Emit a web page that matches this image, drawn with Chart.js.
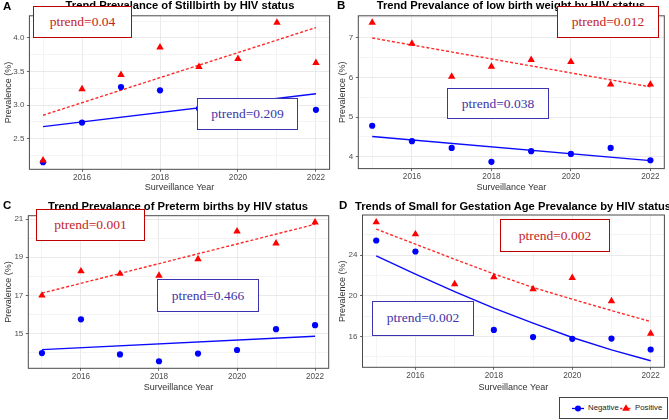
<!DOCTYPE html>
<html>
<head>
<meta charset="utf-8">
<script src="https://cdn.jsdelivr.net/npm/chart.js@4.4.1/dist/chart.umd.min.js"></script>
<style>
  body { margin: 0; background: #fff; }
  #page { position: relative; width: 669px; height: 420px; overflow: hidden; font-family: Arial, "Liberation Sans", sans-serif; }
  canvas { position: absolute; }
  .ttl { position: absolute; font-weight: bold; font-size: 11.2px; line-height: 11px; white-space: nowrap; transform: translateX(-50%); color: #000; }
  .tag { position: absolute; font-weight: bold; font-size: 11.5px; line-height: 11px; color: #000; }
  .pbox { position: absolute; box-sizing: border-box; background: #fff; border: 1.6px solid; display: flex; align-items: center; justify-content: center;
          font-family: "Liberation Serif", "Times New Roman", serif; font-size: 13.5px; }
  .red { border-color: #c00000; color: #c42424; }
  .blue { border-color: #3c33b0; color: #3d35a8; }
  #legend { position: absolute; left: 559px; top: 397px; width: 109px; height: 22px; box-sizing: border-box; border: 1px solid #444; background: #fff; }
  #legend span { position: absolute; top: 5px; font-size: 7.8px; line-height: 10px; color: #222; }
</style>
</head>
<body>
<div id="page">
  <canvas id="pA" width="334" height="197" style="left:0px;top:0px;width:334px;height:197px"></canvas>
  <canvas id="pB" width="335" height="197" style="left:334px;top:0px;width:335px;height:197px"></canvas>
  <canvas id="pC" width="334" height="200" style="left:0px;top:197px;width:334px;height:200px"></canvas>
  <canvas id="pD" width="335" height="200" style="left:334px;top:197px;width:335px;height:200px"></canvas>

  <div class="tag" style="left:3px;top:1px">A</div>
  <div class="tag" style="left:337px;top:0px">B</div>
  <div class="tag" style="left:3px;top:200px">C</div>
  <div class="tag" style="left:339px;top:200px">D</div>

  <div class="ttl" style="left:180px;top:0px">Trend Prevalance of Stillbirth by HIV status</div>
  <div class="ttl" style="left:511px;top:0px">Trend Prevalance of low birth weight by HIV status</div>
  <div class="ttl" style="left:178px;top:200.5px">Trend Prevalance of Preterm births by HIV status</div>
  <div class="ttl" style="left:513px;top:200.5px">Trends of Small for Gestation Age Prevalance by HIV status</div>

  <div class="pbox red"  style="left:33px;top:6px;width:99px;height:32px">ptrend=0.04</div>
  <div class="pbox blue" style="left:197px;top:98px;width:101px;height:32px">ptrend=0.209</div>
  <div class="pbox red"  style="left:557px;top:6px;width:102px;height:32px">ptrend=0.012</div>
  <div class="pbox blue" style="left:447px;top:88px;width:102px;height:31px">ptrend=0.038</div>
  <div class="pbox red"  style="left:36px;top:209px;width:109px;height:32px">ptrend=0.001</div>
  <div class="pbox blue" style="left:157px;top:279px;width:102px;height:33px">ptrend=0.466</div>
  <div class="pbox red"  style="left:500px;top:219px;width:110px;height:33px">ptrend=0.002</div>
  <div class="pbox blue" style="left:372px;top:300.5px;width:102px;height:35px">ptrend=0.002</div>

  <div id="legend">
    <svg width="109" height="22" style="position:absolute;left:0;top:0">
      <line x1="12" y1="10.5" x2="24" y2="10.5" stroke="#0000ff" stroke-width="1.3"/>
      <circle cx="18" cy="10.5" r="3" fill="#0000ff"/>
      <line x1="60" y1="10.5" x2="72" y2="10.5" stroke="#ff2a2a" stroke-width="1.3" stroke-dasharray="2.5,1.5"/>
      <polygon points="66,6.3 69.8,12.8 62.2,12.8" fill="#ff0000"/>
    </svg>
    <span style="left:28px">Negative</span>
    <span style="left:75px">Positive</span>
  </div>
</div>

<script>
Chart.defaults.font.family = 'Arial, "Liberation Sans", sans-serif';
Chart.defaults.color = '#4d4d4d';

// shared x axis
const years = [2015, 2016, 2017, 2018, 2019, 2020, 2021, 2022];
const trendYears = [2015, 2022];
const xTicks = [2015, 2016, 2017, 2018, 2019, 2020, 2021, 2022];
const xLabels = [2016, 2018, 2020, 2022];

// A - stillbirth (2019-2021 negatives sit under the ptrend box)
const stillNeg = [2.15, 2.74, 3.27, 3.22, 2.95, 3.00, 3.02, 2.93];
const stillPos = [2.18, 3.24, 3.45, 3.86, 3.57, 3.69, 4.23, 3.63];
const stillNegTrend = [2.68, 3.17];
const stillPosTrend = [2.85, 4.155];
const stillTicks = [2.25, 2.5, 2.75, 3.0, 3.25, 3.5, 3.75, 4.0, 4.25];
const stillLabels = [2.5, 3.0, 3.5, 4.0];

// B - low birth weight
const lbwNeg = [4.78, 4.39, 4.22, 3.87, 4.14, 4.07, 4.22, 3.91];
const lbwPos = [7.38, 6.85, 6.02, 6.27, 6.44, 6.39, 5.82, 5.82];
const lbwNegTrend = [4.51, 3.90];
const lbwPosTrend = [6.99, 5.76];
const lbwTicks = [4, 4.5, 5, 5.5, 6, 6.5, 7, 7.5];
const lbwLabels = [4, 5, 6, 7];

// C - preterm births
const ptbNeg = [13.98, 15.75, 13.91, 13.55, 13.95, 14.14, 15.23, 15.44];
const ptbPos = [17.0, 18.27, 18.14, 18.04, 18.91, 20.36, 19.73, 20.83];
const ptbNegTrend = [14.16, 14.86];
const ptbPosTrend = [17.12, 20.73];
const ptbTicks = [14, 15, 16, 17, 18, 19, 20, 21];
const ptbLabels = [15, 17, 19, 21];

// D - small for gestation age (2017 negative sits under the ptrend box)
const sgaNeg = [25.44, 24.36, 18.5, 16.65, 15.94, 15.77, 15.80, 14.72];
const sgaPos = [27.24, 26.06, 21.15, 21.84, 20.66, 21.77, 19.48, 16.29];
const sgaNegTrend = [23.93, 22.13, 20.42, 18.79, 17.31, 15.90, 14.69, 13.61];
const sgaPosTrend = [26.56, 25.08, 23.60, 22.16, 20.82, 19.67, 18.55, 17.47];
const sgaTicks = [14, 16, 18, 20, 22, 24, 26];
const sgaLabels = [16, 20, 24];

function pairs(xs, ys) {
    return xs.map((x, i) => ({ x: x, y: ys[i] }));
}

// ggplot-like panel border on top of everything
const panelBorder = {
    id: 'panelBorder',
    afterDatasetsDraw(chart) {
        const { ctx, chartArea: a } = chart;
        ctx.save();
        ctx.strokeStyle = '#4a4a4a';
        ctx.lineWidth = 1;
        ctx.strokeRect(a.left, a.top, a.right - a.left, a.bottom - a.top);
        ctx.restore();
    }
};

// p: canvas box + wanted plot area (page pixels)
function makePanel(id, p, y) {
    const el = document.getElementById(id);
    const yw = p.l - p.cx;            // width of y axis block
    const xh = p.cy + p.h - p.b;      // height of x axis block
    return new Chart(el.getContext('2d'), {
        type: 'scatter',
        data: {
            datasets: [{
                label: 'Positive',
                data: pairs(years, y.pos),
                pointStyle: 'triangle',
                pointRadius: 4.3,
                backgroundColor: '#ff0000',
                borderWidth: 0
            }, {
                label: 'Negative',
                data: pairs(years, y.neg),
                pointStyle: 'circle',
                pointRadius: 3.1,
                backgroundColor: '#0000ff',
                borderWidth: 0
            }, {
                label: 'Positive trend',
                data: pairs(y.trendX, y.posTrend),
                showLine: true,
                pointRadius: 0,
                borderColor: '#ff2a2a',
                borderWidth: 1.4,
                borderDash: [3, 2]
            }, {
                label: 'Negative trend',
                data: pairs(y.trendX, y.negTrend),
                showLine: true,
                pointRadius: 0,
                borderColor: '#0a0aff',
                borderWidth: 1.4
            }]
        },
        options: {
            animation: false,
            responsive: false,
            layout: { padding: { top: p.t - p.cy, right: p.cx + p.w - p.r, left: 0, bottom: 0 } },
            plugins: { legend: { display: false }, tooltip: { enabled: false } },
            scales: {
                x: {
                    type: 'linear',
                    min: 2014.65,
                    max: 2022.35,
                    afterBuildTicks: s => { s.ticks = xTicks.map(v => ({ value: v })); },
                    afterFit: s => { s.height = xh; },
                    border: { display: false },
                    grid: {
                        color: c => xLabels.includes(c.tick && c.tick.value) ? '#e4e4e4' : '#f1f1f1',
                        tickColor: c => xLabels.includes(c.tick && c.tick.value) ? '#444' : 'rgba(0,0,0,0)',
                        tickLength: 2.5,
                        lineWidth: 0.8
                    },
                    ticks: {
                        autoSkip: false,
                        maxRotation: 0,
                        padding: 1,
                        font: { size: 8.2 },
                        callback: v => xLabels.includes(v) ? String(v) : ''
                    },
                    title: {
                        display: true,
                        text: 'Surveillance Year',
                        color: '#333',
                        font: { size: 9 },
                        padding: { top: 0, bottom: p.xTitlePad }
                    }
                },
                y: {
                    min: y.min,
                    max: y.max,
                    afterBuildTicks: s => { s.ticks = y.ticks.map(v => ({ value: v })); },
                    afterFit: s => { s.width = yw; },
                    border: { display: false },
                    grid: {
                        color: c => y.labels.includes(c.tick && c.tick.value) ? '#e4e4e4' : '#f1f1f1',
                        tickColor: c => y.labels.includes(c.tick && c.tick.value) ? '#444' : 'rgba(0,0,0,0)',
                        tickLength: 2.5,
                        lineWidth: 0.8
                    },
                    ticks: {
                        autoSkip: false,
                        padding: 2.5,
                        font: { size: 8 },
                        callback: v => y.labels.includes(v) ? v.toFixed(y.digits) : ''
                    },
                    title: {
                        display: true,
                        text: 'Prevalence (%)',
                        color: '#333',
                        font: { size: 9 },
                        padding: { top: 3.6, bottom: 0 }
                    }
                }
            }
        },
        plugins: [panelBorder]
    });
}

/*
    A: Stillbirth
*/
makePanel('pA',
    { cx: 0, cy: 0, w: 334, h: 197, l: 29.4, t: 15.8, r: 329.6, b: 169.3, xTitlePad: 3.6 },
    { min: 2.045, max: 4.33, ticks: stillTicks, labels: stillLabels, digits: 1,
      neg: stillNeg, pos: stillPos, negTrend: stillNegTrend, posTrend: stillPosTrend, trendX: trendYears });

/*
    B: Low birth weight
*/
makePanel('pB',
    { cx: 334, cy: 0, w: 335, h: 197, l: 358.3, t: 15.8, r: 664.3, b: 168.6, xTitlePad: 3.6 },
    { min: 3.70, max: 7.55, ticks: lbwTicks, labels: lbwLabels, digits: 0,
      neg: lbwNeg, pos: lbwPos, negTrend: lbwNegTrend, posTrend: lbwPosTrend, trendX: trendYears });

/*
    C: Preterm births
*/
makePanel('pC',
    { cx: 0, cy: 197, w: 334, h: 200, l: 28.3, t: 215.7, r: 328.7, b: 368.3, xTitlePad: 4.3 },
    { min: 13.18, max: 21.18, ticks: ptbTicks, labels: ptbLabels, digits: 0,
      neg: ptbNeg, pos: ptbPos, negTrend: ptbNegTrend, posTrend: ptbPosTrend, trendX: trendYears });

/*
    D: Small for gestation age (curved fit)
*/
makePanel('pD',
    { cx: 334, cy: 197, w: 335, h: 200, l: 362.5, t: 215, r: 664.4, b: 367.3, xTitlePad: 4.3 },
    { min: 12.97, max: 27.95, ticks: sgaTicks, labels: sgaLabels, digits: 0,
      neg: sgaNeg, pos: sgaPos, negTrend: sgaNegTrend, posTrend: sgaPosTrend, trendX: years });
</script>
</body>
</html>
